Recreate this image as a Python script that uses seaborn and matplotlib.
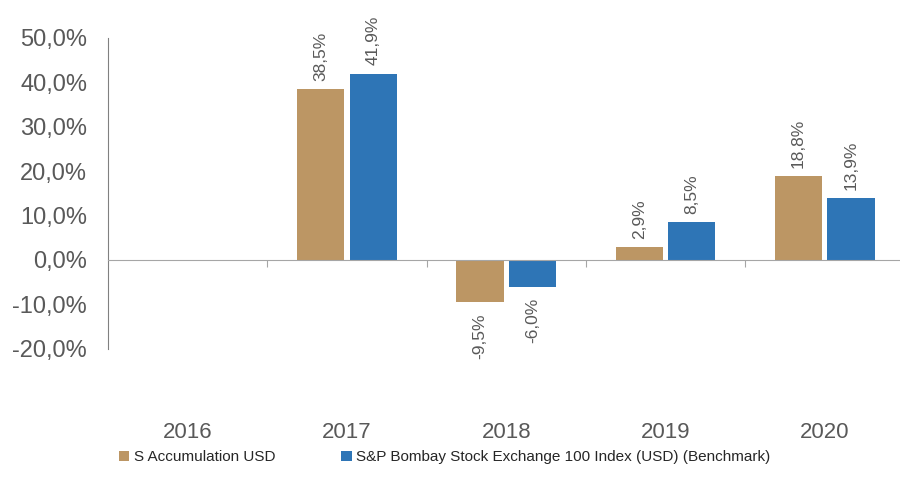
import numpy as np
import matplotlib.pyplot as plt
import matplotlib.transforms as mtransforms
import pandas as pd
import seaborn as sns

# data
years = ['2016', '2017', '2018', '2019', '2020']
fund = [np.nan, 38.5, -9.5, 2.9, 18.8]
bench = [np.nan, 41.9, -6.0, 8.5, 13.9]
series_names = ['S Accumulation USD', 'S&P Bombay Stock Exchange 100 Index (USD) (Benchmark)']
yticks = [-20, -10, 0, 10, 20, 30, 40, 50]

df = pd.DataFrame({
    'year': years * 2,
    'value': fund + bench,
    'series': [series_names[0]] * len(years) + [series_names[1]] * len(years),
})

sns.set_style('white')
plt.rcParams['font.family'] = ['Liberation Sans', 'DejaVu Sans']
grey = '#595959'
colors = ['#BC9664', '#2E75B6']

fig = plt.figure(figsize=(9, 4.9), dpi=100)
ax = fig.add_axes([0.12, 0.288, 0.885, 0.635])
sns.barplot(data=df, x='year', y='value', hue='series', order=years,
            palette=colors, saturation=1, width=0.66, gap=0.1, linewidth=0,
            ax=ax, legend=True)

ax.set_ylim(-20, 50)
ax.set_xlim(-0.5, len(years) - 0.5)
ax.set_yticks(yticks)
ax.set_yticklabels([f'{v:.1f}%'.replace('.', ',') for v in yticks], color=grey, fontsize=17)
ax.tick_params(axis='y', length=0, pad=15)

# spines
for s in ['top', 'right']:
    ax.spines[s].set_visible(False)
ax.spines['left'].set_color('#808080')
ax.spines['bottom'].set_position(('data', 0))
ax.spines['bottom'].set_color('#A6A6A6')
ax.set_xticks(np.arange(len(years) - 1) + 0.5)
ax.set_xticklabels([])
ax.tick_params(axis='x', length=5, color='#A6A6A6', direction='out', bottom=True)
ax.set_xlabel('')
ax.set_ylabel('')

# category labels below the plot
trans = mtransforms.blended_transform_factory(ax.transData, ax.transAxes)
for i, y in enumerate(years):
    ax.text(i, -0.27, y, transform=trans, ha='center', va='center', color=grey, fontsize=16)

# value labels
for cont in ax.containers:
    for bar in cont:
        h = bar.get_height()
        if np.isnan(h):
            continue
        x = bar.get_x() + bar.get_width() / 2
        txt = f'{h:.1f}%'.replace('.', ',')
        if h >= 0:
            ax.annotate(txt, (x, h), xytext=(0, 6), textcoords='offset points',
                        rotation=90, ha='center', va='bottom', color=grey, fontsize=12.5)
        else:
            ax.annotate(txt, (x, h), xytext=(0, -8), textcoords='offset points',
                        rotation=90, ha='center', va='top', color=grey, fontsize=12.5)

leg = ax.legend(loc='lower left', bbox_to_anchor=(-0.004, -0.415), ncol=2, frameon=False,
                fontsize=11, handlelength=0.7, handleheight=0.7, handletextpad=0.3,
                columnspacing=4.3)
for t in leg.get_texts():
    t.set_color('#262626')

fig.savefig('out.png', dpi=100)
